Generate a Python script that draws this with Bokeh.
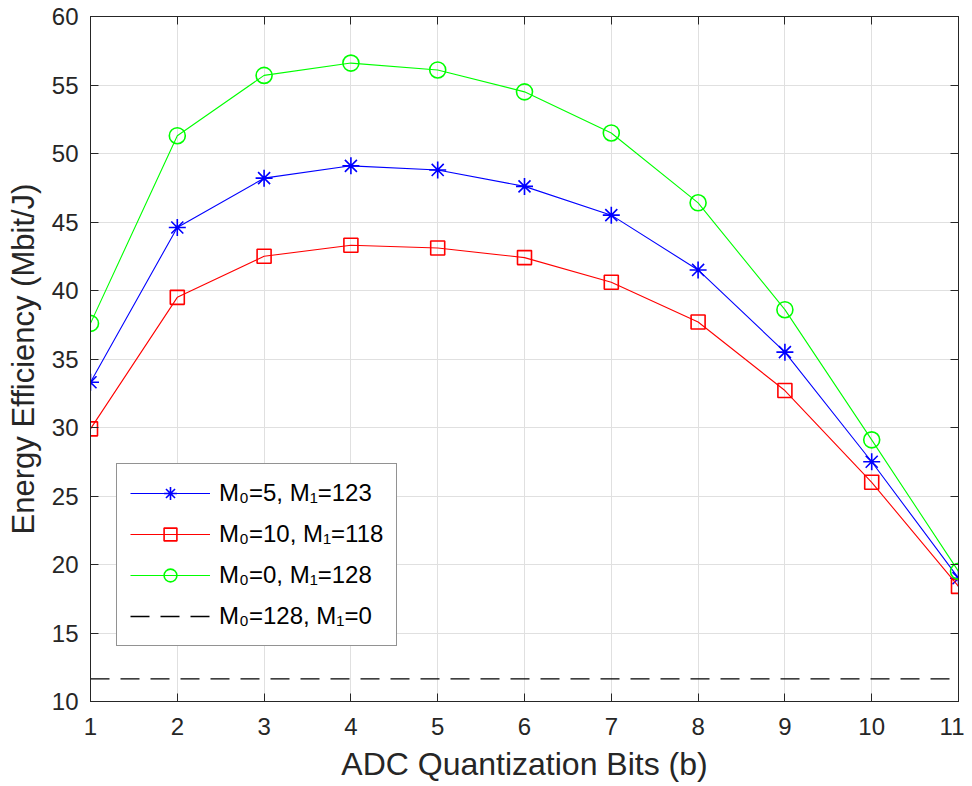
from bokeh.plotting import figure
from bokeh.models import LinearAxis, FixedTicker, Range1d, Legend, CustomLabelingPolicy
from bokeh.embed import file_html
from bokeh.resources import INLINE

bits = [1, 2, 3, 4, 5, 6, 7, 8, 9, 10, 11]
ee_m5 = [33.3, 44.6, 48.2, 49.1, 48.8, 47.6, 45.5, 41.5, 35.5, 27.5, 19.0]
ee_m10 = [29.9, 39.5, 42.5, 43.3, 43.1, 42.4, 40.6, 37.7, 32.7, 26.0, 18.4]
ee_m0 = [37.6, 51.3, 55.7, 56.6, 56.1, 54.5, 51.5, 46.4, 38.6, 29.1, 19.5]
ee_m128 = 11.65

labels = ["M\u2080=5, M\u2081=123", "M\u2080=10, M\u2081=118",
          "M\u2080=0, M\u2081=128", "M\u2080=128, M\u2081=0"]
x_ticks = list(range(1, 12))
y_ticks = list(range(10, 61, 5))

FONT = "Liberation Sans"
AX = "#262626"

p = figure(width=964, height=784, output_backend="svg", toolbar_location=None,
           x_range=Range1d(1, 11), y_range=Range1d(10, 60),
           min_border_left=90, min_border_right=6, min_border_top=16,
           min_border_bottom=75)
p.background_fill_color = "white"
p.border_fill_color = "white"
p.outline_line_color = AX
p.outline_line_width = 1

for ax in p.xaxis + p.yaxis:
    ax.major_tick_in = 8
    ax.major_tick_out = 0
    ax.minor_tick_line_color = None
    ax.axis_line_color = AX
    ax.major_tick_line_color = AX
    ax.major_label_text_font = FONT
    ax.major_label_text_font_size = "24px"
    ax.major_label_text_color = AX
    ax.axis_label_text_font = FONT
    ax.axis_label_text_font_style = "normal"
    ax.axis_label_text_color = AX

p.xaxis.ticker = FixedTicker(ticks=x_ticks)
p.yaxis.ticker = FixedTicker(ticks=y_ticks)
p.xaxis.axis_label = "ADC Quantization Bits (b)"
p.yaxis.axis_label = "Energy Efficiency (Mbit/J)"
p.xaxis.axis_label_text_font_size = "32px"
p.yaxis.axis_label_text_font_size = "31px"
p.xaxis.major_label_standoff = 16
p.yaxis.major_label_standoff = 12
p.xaxis.axis_label_standoff = 8
p.yaxis.axis_label_standoff = 8

# top and right tick marks (no labels)
top = LinearAxis(ticker=FixedTicker(ticks=x_ticks),
                 major_label_policy=CustomLabelingPolicy(code="return new Set()"),
                 major_label_text_font_size="1px", major_label_standoff=0,
                 major_tick_in=8, major_tick_out=0, minor_tick_line_color=None,
                 axis_line_color=AX, major_tick_line_color=AX)
right = LinearAxis(ticker=FixedTicker(ticks=y_ticks),
                   major_label_policy=CustomLabelingPolicy(code="return new Set()"),
                   major_label_text_font_size="1px", major_label_standoff=0,
                   major_tick_in=8, major_tick_out=0, minor_tick_line_color=None,
                   axis_line_color=AX, major_tick_line_color=AX)
p.add_layout(top, "above")
p.add_layout(right, "right")

p.grid.grid_line_color = "#e0e0e0"
p.grid.grid_line_width = 1
p.xgrid.ticker = FixedTicker(ticks=x_ticks)
p.ygrid.ticker = FixedTicker(ticks=y_ticks)

r1l = p.line(bits, ee_m5, line_color="#0000ff", line_width=1.1)
r1m = p.scatter(bits, ee_m5, marker="asterisk", size=17, line_color="#0000ff", line_width=1.6)
r2l = p.line(bits, ee_m10, line_color="#ff0000", line_width=1.1)
r2m = p.scatter(bits, ee_m10, marker="square", size=14, line_color="#ff0000",
                fill_color=None, line_width=1.6)
r3l = p.line(bits, ee_m0, line_color="#00ff00", line_width=1.1)
r3m = p.scatter(bits, ee_m0, marker="circle", size=16, line_color="#00ff00",
                fill_color=None, line_width=1.6)
r4l = p.line([bits[0], bits[-1]], [ee_m128, ee_m128], line_color="black",
             line_width=1.3, line_dash="19 11")

legend = Legend(items=[(labels[0], [r1l, r1m]), (labels[1], [r2l, r2m]),
                       (labels[2], [r3l, r3m]), (labels[3], [r4l])],
                location=(26, 55))
legend.label_text_font = FONT
legend.label_text_font_size = "24px"
legend.label_text_color = "black"
legend.glyph_width = 80
legend.glyph_height = 32
legend.label_height = 32
legend.spacing = 9
legend.padding = 13
legend.margin = 0
legend.label_standoff = 9
legend.border_line_color = AX
legend.border_line_width = 1
legend.background_fill_color = "white"
legend.background_fill_alpha = 1
p.add_layout(legend, "center")

open("out.html", "w").write(file_html(p, INLINE))
